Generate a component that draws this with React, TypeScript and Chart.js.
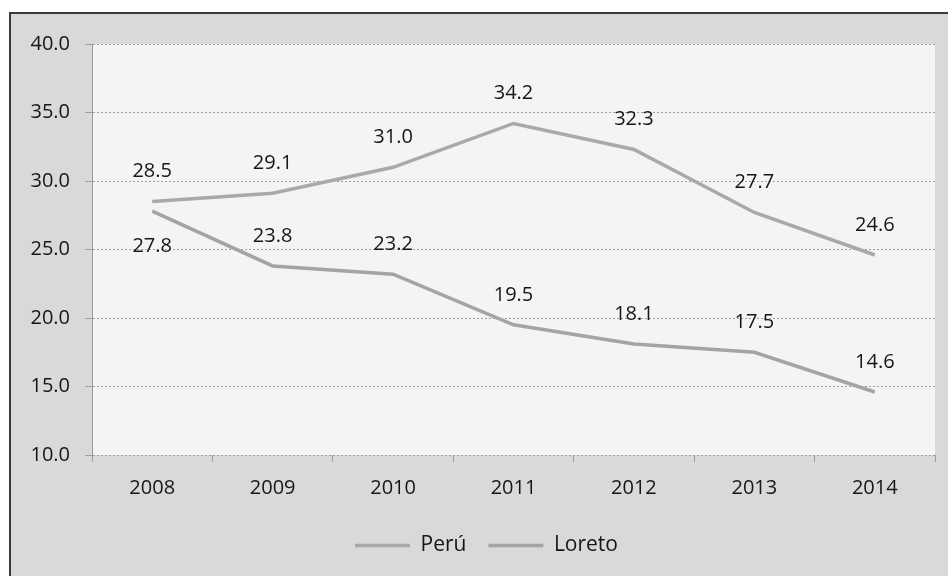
import React, { useEffect, useRef } from "react";
import { Chart, registerables } from "chart.js";

Chart.register(...registerables);

const years = ["2008", "2009", "2010", "2011", "2012", "2013", "2014"];
const peru = [28.5, 29.1, 31.0, 34.2, 32.3, 27.7, 24.6];
const loreto = [27.8, 23.8, 23.2, 19.5, 18.1, 17.5, 14.6];
const seriesNames = ["Perú", "Loreto"];

const FONT = "'Open Sans', 'Liberation Sans', sans-serif";
const TEXT = "#161616";

const framePlugin = {
  id: "frame",
  beforeDraw(chart: any) {
    const { ctx, chartArea } = chart;
    if (chart.legend) chart.legend.left = 38;
    ctx.save();
    ctx.fillStyle = "#ffffff";
    ctx.fillRect(0, 0, chart.width, chart.height);
    ctx.fillStyle = "#d8d9db";
    ctx.fillRect(10, 13, 938, chart.height);
    ctx.strokeStyle = "#3a3a3a";
    ctx.lineWidth = 2;
    ctx.beginPath();
    ctx.moveTo(10, chart.height);
    ctx.lineTo(10, 13);
    ctx.lineTo(948, 13);
    ctx.stroke();
    ctx.fillStyle = "#f4f4f4";
    ctx.fillRect(chartArea.left, chartArea.top, chartArea.right - chartArea.left, chartArea.bottom - chartArea.top);
    ctx.restore();
  },
};

const labelPlugin = {
  id: "valueLabels",
  afterDatasetsDraw(chart: any) {
    const { ctx } = chart;
    ctx.save();
    ctx.font = `20px ${FONT}`;
    ctx.fillStyle = TEXT;
    ctx.textAlign = "center";
    ctx.textBaseline = "middle";
    chart.data.datasets.forEach((ds: any, di: number) => {
      const meta = chart.getDatasetMeta(di);
      meta.data.forEach((pt: any, i: number) => {
        const below = di === 1 && i === 0;
        const y = below ? pt.y + 35 : pt.y - 30;
        ctx.fillText(Number(ds.data[i]).toFixed(1), pt.x, y);
      });
    });
    ctx.restore();
  },
};

export default function App() {
  const ref = useRef<HTMLCanvasElement>(null);
  useEffect(() => {
    if (!ref.current) return;
    const chart = new Chart(ref.current, {
      type: "line",
      data: {
        labels: years,
        datasets: [
          {
            label: seriesNames[0],
            data: peru,
            borderColor: "#a9a9a9",
            backgroundColor: "#a9a9a9",
            borderWidth: 3.5,
            pointRadius: 0,
            tension: 0,
          },
          {
            label: seriesNames[1],
            data: loreto,
            borderColor: "#a4a4a4",
            backgroundColor: "#a4a4a4",
            borderWidth: 3.5,
            pointRadius: 0,
            tension: 0,
          },
        ],
      },
      options: {
        animation: false,
        responsive: false,
        layout: { padding: { top: 44, right: 15, bottom: 10, left: 0 } },
        plugins: {
          tooltip: { enabled: false },
          legend: {
            position: "bottom",
            labels: {
              usePointStyle: true,
              pointStyle: "line",
              pointStyleWidth: 55,
              boxHeight: 3,
              padding: 22,
              color: TEXT,
              font: { family: FONT, size: 21 },
            },
          },
        },
        scales: {
          x: {
            offset: true,
            afterFit(scale: any) {
              scale.height = 58;
            },
            grid: {
              offset: true,
              drawOnChartArea: false,
              drawTicks: true,
              tickLength: 7,
              color: "#9a9a9a",
            },
            border: { display: false },
            ticks: {
              padding: 14,
              color: TEXT,
              font: { family: FONT, size: 20 },
            },
          },
          y: {
            min: 10,
            max: 40,
            afterFit(scale: any) {
              scale.width = 92;
            },
            grid: {
              color: "#a0a0a0",
              tickLength: 7,
              drawTicks: true,
            },
            border: { display: true, color: "#9a9a9a", dash: [2, 2] },
            ticks: {
              stepSize: 5,
              padding: 15,
              color: TEXT,
              font: { family: FONT, size: 20 },
              callback: (v: any) => Number(v).toFixed(1),
            },
          },
        },
      },
      plugins: [framePlugin, labelPlugin],
    } as any);
    return () => chart.destroy();
  }, []);
  return (
    <canvas
      ref={ref}
      width={950}
      height={576}
      style={{ position: "fixed", left: 0, top: 0, width: 950, height: 576 }}
    />
  );
}
